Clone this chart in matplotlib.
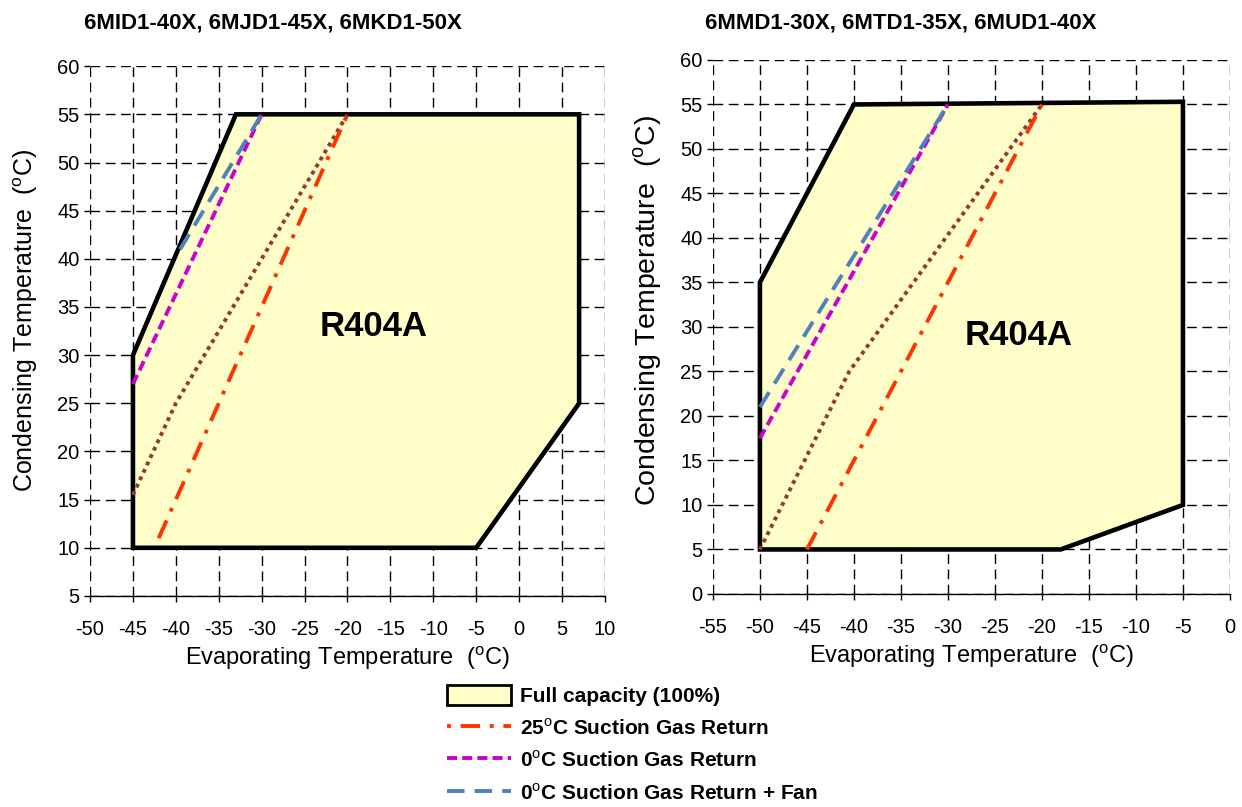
# %%
# Imports

import matplotlib
matplotlib.use('Agg')
import matplotlib.pyplot as plt
from matplotlib.patches import Patch
from matplotlib.lines import Line2D


# %%
# Data (evaporating temp, condensing temp)

titles = ['6MID1-40X, 6MJD1-45X, 6MKD1-50X', '6MMD1-30X, 6MTD1-35X, 6MUD1-40X']

left_env_x = [-45, -45, -33, 7, 7, -5, -45]
left_env_y = [10, 30, 55, 55, 25, 10, 10]
left_sg25_x = [-42, -20]
left_sg25_y = [11, 55]
left_dot_x = [-45, -40, -20]
left_dot_y = [15.5, 25, 55]
left_sg0_x = [-45, -30]
left_sg0_y = [27, 55]
left_fan_x = [-39.5, -30]
left_fan_y = [41, 55]

right_env_x = [-50, -50, -40, -5, -5, -18, -50]
right_env_y = [5, 35, 55, 55.3, 10, 5, 5]
right_sg25_x = [-45, -20]
right_sg25_y = [5, 55]
right_dot_x = [-50, -40.5, -20]
right_dot_y = [5, 25, 55]
right_sg0_x = [-50, -30]
right_sg0_y = [17.5, 55]
right_fan_x = [-50, -30]
right_fan_y = [21, 55]

left_xticks = list(range(-50, 11, 5))
left_yticks = list(range(5, 61, 5))
right_xticks = list(range(-55, 1, 5))
right_yticks = list(range(0, 61, 5))

legend_labels = ['Full capacity (100%)', '25$^{\\rm o}$C Suction Gas Return',
                 '0$^{\\rm o}$C Suction Gas Return', '0$^{\\rm o}$C Suction Gas Return + Fan']


# %%
# Styles

FILL = '#FFFDC8'
C25 = '#FF3300'
C0 = '#CC00CC'
CFAN = '#4F81BD'
CDOT = '#953735'

plt.rcParams['font.family'] = ['Liberation Sans', 'DejaVu Sans']
plt.rcParams['mathtext.fontset'] = 'custom'
plt.rcParams['mathtext.rm'] = 'Liberation Sans'
plt.rcParams['mathtext.bf'] = 'Liberation Sans:bold'
plt.rcParams['axes.unicode_minus'] = False


def draw_panel(ax, env_x, env_y, sg25, dot, sg0, fan, xticks, yticks, label_xy,
               ylab_size, ylab_xy):
    ax.fill(env_x, env_y, facecolor=FILL, edgecolor='black', lw=3.3, zorder=2)
    ax.plot(*dot, color=CDOT, lw=2.8, dashes=(1, 1.1), zorder=3)
    ax.plot(*sg25, color=C25, lw=2.8, dashes=(5, 2.5, 1, 2.5), zorder=3)
    ax.plot(*sg0, color=C0, lw=2.8, dashes=(2.6, 1.3), zorder=3)
    ax.plot(*fan, color=CFAN, lw=2.8, dashes=(4.5, 2.6), zorder=3)

    ax.set_xlim(xticks[0], xticks[-1])
    ax.set_ylim(yticks[0], yticks[-1])
    ax.set_xticks(xticks)
    ax.set_yticks(yticks)
    ax.grid(True, color='black', lw=1, linestyle=(0, (7, 4)), zorder=1)
    ax.set_axisbelow(True)
    for s in ['top', 'right', 'left']:
        ax.spines[s].set_visible(False)
    ax.spines['bottom'].set_linewidth(1)
    ax.tick_params(axis='both', labelsize=14.5, length=4, width=1, direction='out')
    ax.tick_params(axis='x', pad=13)

    ax.set_xlabel('Evaporating Temperature  ($^{\\rm o}$C)', fontsize=17, labelpad=4)
    ax.set_ylabel('Condensing Temperature  ($^{\\rm o}$C)', fontsize=ylab_size)
    ax.yaxis.set_label_coords(*ylab_xy)
    ax.text(label_xy[0], label_xy[1], 'R404A', fontsize=25, fontweight='bold',
            ha='center', va='center', zorder=4)


# %%
# Plot

fig = plt.figure(figsize=(12.42, 8.07), dpi=100)
ax1 = fig.add_axes([0.0725, 0.2615, 0.4145, 0.6565])
ax2 = fig.add_axes([0.574, 0.264, 0.4163, 0.6617])

draw_panel(ax1, left_env_x, left_env_y, (left_sg25_x, left_sg25_y), (left_dot_x, left_dot_y),
           (left_sg0_x, left_sg0_y), (left_fan_x, left_fan_y),
           left_xticks, left_yticks, (-17, 33), 18, (-0.097, 0.52))
draw_panel(ax2, right_env_x, right_env_y, (right_sg25_x, right_sg25_y), (right_dot_x, right_dot_y),
           (right_sg0_x, right_sg0_y), (right_fan_x, right_fan_y),
           right_xticks, right_yticks, (-22.5, 29), 20.5, (-0.095, 0.53))

# chart titles sit centred over the whole chart area, not the plot box
fig.text(0.22, 0.972, titles[0], fontsize=16, fontweight='bold', ha='center', va='center')
fig.text(0.725, 0.972, titles[1], fontsize=16, fontweight='bold', ha='center', va='center')

handles = [
    Patch(facecolor=FILL, edgecolor='black', lw=2),
    Line2D([], [], color=C25, lw=2.8, dashes=(1, 2.5, 5, 2.5, 1, 2.5, 5)),
    Line2D([], [], color=C0, lw=2.8, dashes=(2.6, 1.3)),
    Line2D([], [], color=CFAN, lw=2.8, dashes=(4.5, 2.6)),
]
fig.legend(handles, legend_labels, loc='upper left', bbox_to_anchor=(0.353, 0.162),
           frameon=False, prop={'weight': 'bold', 'size': 15}, handlelength=3.1,
           handleheight=1.1, labelspacing=0.55, handletextpad=0.4, borderaxespad=0)

fig.savefig('out.png', dpi=100)
